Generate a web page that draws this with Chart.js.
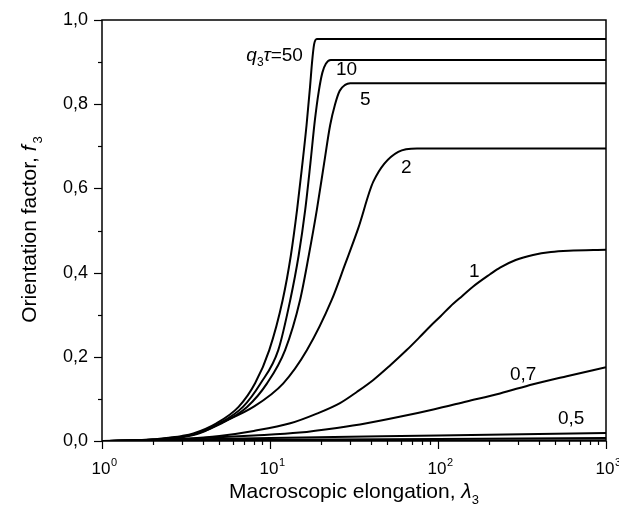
<!DOCTYPE html>
<html>
<head>
<meta charset="utf-8">
<script src="https://cdn.jsdelivr.net/npm/chart.js"></script>
<style>
  body { margin: 0; background: #fff; }
</style>
</head>
<body>
<canvas id="orient-chart" width="619" height="518"></canvas>
<script>
// curves f3(lambda3), one pair of arrays per q3*tau
var lam50 = [1, 1.5, 2, 2.5, 3, 3.5, 4.8, 6.5, 8.15, 9.9, 11.9, 13.3, 14.5, 15.5, 16.5, 17.3, 17.8, 18.3, 19, 1000];
var f50   = [0, 0.001, 0.004, 0.008, 0.012, 0.018, 0.042, 0.081, 0.137, 0.216, 0.335, 0.44, 0.55, 0.65, 0.75, 0.84, 0.9, 0.942, 0.955, 0.955];

var lam10 = [1, 2, 3, 3.6, 5.0, 6.9, 8.8, 11.2, 13.2, 14.8, 16.2, 17.4, 18.5, 19.5, 20.5, 21.5, 23, 1000];
var f10   = [0, 0.003, 0.01, 0.018, 0.042, 0.081, 0.137, 0.216, 0.335, 0.44, 0.549, 0.66, 0.762, 0.83, 0.875, 0.896, 0.905, 0.905];

var lam5 = [1, 2, 3, 3.7, 5.15, 7.3, 9.6, 12.3, 15.1, 17, 19.0, 21, 22.8, 24.4, 26, 28, 30, 1000];
var f5   = [0, 0.003, 0.01, 0.018, 0.042, 0.081, 0.137, 0.216, 0.335, 0.44, 0.549, 0.66, 0.75, 0.8, 0.832, 0.846, 0.85, 0.85];

var lam2 = [1, 2, 3, 3.8, 5.04, 7.96, 12.0, 16.6, 23.3, 28, 33.5, 41.2, 58, 75, 1000];
var f2   = [0, 0.003, 0.009, 0.018, 0.042, 0.081, 0.137, 0.216, 0.335, 0.42, 0.505, 0.616, 0.687, 0.695, 0.695];

var lam1 = [1, 2, 3, 5, 8, 13.2, 19, 26.1, 33, 41.2, 52, 65.1, 77, 89.6, 104, 118, 140, 162, 204, 234, 290, 368, 470, 600, 1000];
var f1   = [0, 0.002, 0.005, 0.012, 0.024, 0.042, 0.065, 0.09, 0.117, 0.145, 0.18, 0.216, 0.245, 0.272, 0.297, 0.319, 0.345, 0.367, 0.396, 0.412, 0.43, 0.442, 0.449, 0.452, 0.454];

var lam07 = [1, 2, 4, 8, 15, 25, 37.6, 60, 93.8, 148, 234, 368, 584, 1000];
var f07   = [0, 0.002, 0.007, 0.013, 0.02, 0.031, 0.042, 0.058, 0.075, 0.094, 0.113, 0.135, 0.154, 0.175];

var lam05 = [1, 10, 100, 1000];
var f05   = [0, 0.007, 0.013, 0.019];

var lam03 = [1, 10, 100, 1000];
var f03   = [0, 0.003, 0.005, 0.007];

var lam01 = [1, 1000];
var f01   = [0, 0.002];

// tick labels
var yTicks = [0, 0.2, 0.4, 0.6, 0.8, 1.0];
var xDecades = [1, 10, 100, 1000];
var xExponents = ["0", "1", "2", "3"];

// curve labels: text, lambda (left edge), f (middle)
var curveLabels = ["10", "5", "2", "1", "0,7", "0,5"];
var labelLam = [24.7, 34.3, 60.2, 153, 268, 518];
var labelF = [0.881, 0.81, 0.648, 0.402, 0.157, 0.054];
var firstLabelLam = 15.7;   // right edge of "q3τ=50"
var firstLabelF = 0.915;

var FONT = "'Liberation Sans', Arial, sans-serif";

function toPoints(lam, f) {
  var pts = [];
  for (var i = 0; i < lam.length; i++) {
    pts.push({x: lam[i], y: f[i]});
  }
  return pts;
}

function curve(lam, f) {
  return {
    data: toPoints(lam, f),
    showLine: true,
    borderColor: "#000",
    borderWidth: 2,
    pointRadius: 0,
    cubicInterpolationMode: "monotone",
    fill: false
  };
}

// frame, ticks, x labels with superscripts, axis titles and curve labels
var decorations = {
  id: "decorations",
  afterDraw: function (chart) {
    var ctx = chart.ctx;
    var xs = chart.scales.x;
    var ys = chart.scales.y;
    var a = chart.chartArea;
    ctx.save();
    ctx.strokeStyle = "#000";
    ctx.fillStyle = "#000";
    ctx.lineWidth = 1.5;
    ctx.strokeRect(a.left, a.top, a.right - a.left, a.bottom - a.top);

    ctx.lineWidth = 1.2;
    // y ticks, major every 0.2, minor every 0.1
    for (var i = 0; i <= 10; i++) {
      var py = Math.round(ys.getPixelForValue(i / 10)) + 0.5;
      var len = (i % 2 == 0) ? 8 : 4;
      ctx.beginPath();
      ctx.moveTo(a.left - len, py);
      ctx.lineTo(a.left, py);
      ctx.stroke();
    }
    // x ticks
    for (var d = 0; d < xDecades.length; d++) {
      for (var k = 1; k <= 9; k++) {
        var v = xDecades[d] * k;
        if (v > 1000) break;
        var px = Math.round(xs.getPixelForValue(v)) + 0.5;
        var l = (k == 1) ? 8 : 4;
        ctx.beginPath();
        ctx.moveTo(px, a.bottom);
        ctx.lineTo(px, a.bottom + l);
        ctx.stroke();
      }
    }

    // x tick labels 10^n
    ctx.textBaseline = "alphabetic";
    ctx.textAlign = "left";
    for (var j = 0; j < xDecades.length; j++) {
      var cx = xs.getPixelForValue(xDecades[j]);
      ctx.font = "17px " + FONT;
      var w1 = ctx.measureText("10").width;
      ctx.font = "11px " + FONT;
      var w2 = ctx.measureText(xExponents[j]).width;
      var sx = cx - (w1 + w2) / 2 + 2;
      ctx.font = "17px " + FONT;
      ctx.fillText("10", sx, 474);
      ctx.font = "11px " + FONT;
      ctx.fillText(xExponents[j], sx + w1 + 0.5, 466);
    }

    // x title
    ctx.font = "21px " + FONT;
    var t1 = "Macroscopic elongation, ";
    var wt1 = ctx.measureText(t1).width;
    ctx.font = "italic 21px " + FONT;
    var wl = ctx.measureText("λ").width;
    ctx.font = "13px " + FONT;
    var ws = ctx.measureText("3").width;
    var tx = (a.left + a.right) / 2 - (wt1 + wl + ws) / 2;
    ctx.font = "21px " + FONT;
    ctx.fillText(t1, tx, 498);
    ctx.font = "italic 21px " + FONT;
    ctx.fillText("λ", tx + wt1, 498);
    ctx.font = "13px " + FONT;
    ctx.fillText("3", tx + wt1 + wl, 504);

    // y title, rotated
    ctx.save();
    ctx.translate(36, (a.top + a.bottom) / 2);
    ctx.rotate(-Math.PI / 2);
    ctx.font = "21px " + FONT;
    var y1 = "Orientation factor, ";
    var wy1 = ctx.measureText(y1).width;
    ctx.font = "italic 21px " + FONT;
    var wf = ctx.measureText("f").width;
    ctx.font = "13px " + FONT;
    var wy3 = ctx.measureText("3").width;
    var ty = -(wy1 + wf + wy3) / 2;
    ctx.font = "21px " + FONT;
    ctx.fillText(y1, ty, 0);
    ctx.font = "italic 21px " + FONT;
    ctx.fillText("f", ty + wy1, 0);
    ctx.font = "13px " + FONT;
    ctx.fillText("3", ty + wy1 + wf + 2, 6);
    ctx.restore();

    // curve labels
    ctx.textBaseline = "middle";
    ctx.font = "19px " + FONT;
    for (var m = 0; m < curveLabels.length; m++) {
      ctx.fillText(curveLabels[m], xs.getPixelForValue(labelLam[m]), ys.getPixelForValue(labelF[m]));
    }

    // "q3τ=50", right aligned
    var qx = xs.getPixelForValue(firstLabelLam);
    var qy = ys.getPixelForValue(firstLabelF);
    ctx.font = "italic 19px " + FONT;
    var wq = ctx.measureText("q").width;
    var wtau = ctx.measureText("τ").width;
    ctx.font = "12px " + FONT;
    var w3 = ctx.measureText("3").width;
    ctx.font = "19px " + FONT;
    var w50 = ctx.measureText("=50").width;
    var qs = qx - (wq + w3 + wtau + w50);
    ctx.font = "italic 19px " + FONT;
    ctx.fillText("q", qs, qy);
    ctx.fillText("τ", qs + wq + w3, qy);
    ctx.font = "12px " + FONT;
    ctx.fillText("3", qs + wq, qy + 7);
    ctx.font = "19px " + FONT;
    ctx.fillText("=50", qs + wq + w3 + wtau, qy);
    ctx.restore();
  }
};

var orientChart = new Chart(document.getElementById("orient-chart"), {
  type: "scatter",
  data: {
    datasets: [
      curve(lam50, f50),
      curve(lam10, f10),
      curve(lam5, f5),
      curve(lam2, f2),
      curve(lam1, f1),
      curve(lam07, f07),
      curve(lam05, f05),
      curve(lam03, f03),
      curve(lam01, f01)
    ]
  },
  options: {
    responsive: false,
    animation: false,
    devicePixelRatio: 1,
    layout: { padding: { top: 20, right: 13, left: 0, bottom: 0 } },
    plugins: {
      legend: { display: false },
      tooltip: { enabled: false }
    },
    scales: {
      x: {
        type: "logarithmic",
        min: 1,
        max: 1000,
        grid: { display: false },
        border: { display: false },
        ticks: { display: false },
        afterFit: function (scale) { scale.height = 77; }
      },
      y: {
        min: 0,
        max: 1,
        grid: { display: false },
        border: { display: false },
        afterFit: function (scale) { scale.width = 102; },
        afterBuildTicks: function (scale) {
          scale.ticks = yTicks.map(function (v) { return {value: v}; });
        },
        ticks: {
          padding: 6,
          color: "#000",
          font: { family: FONT, size: 18 },
          callback: function (v) { return v.toFixed(1).replace(".", ","); }
        }
      }
    }
  },
  plugins: [decorations]
});
</script>
</body>
</html>
